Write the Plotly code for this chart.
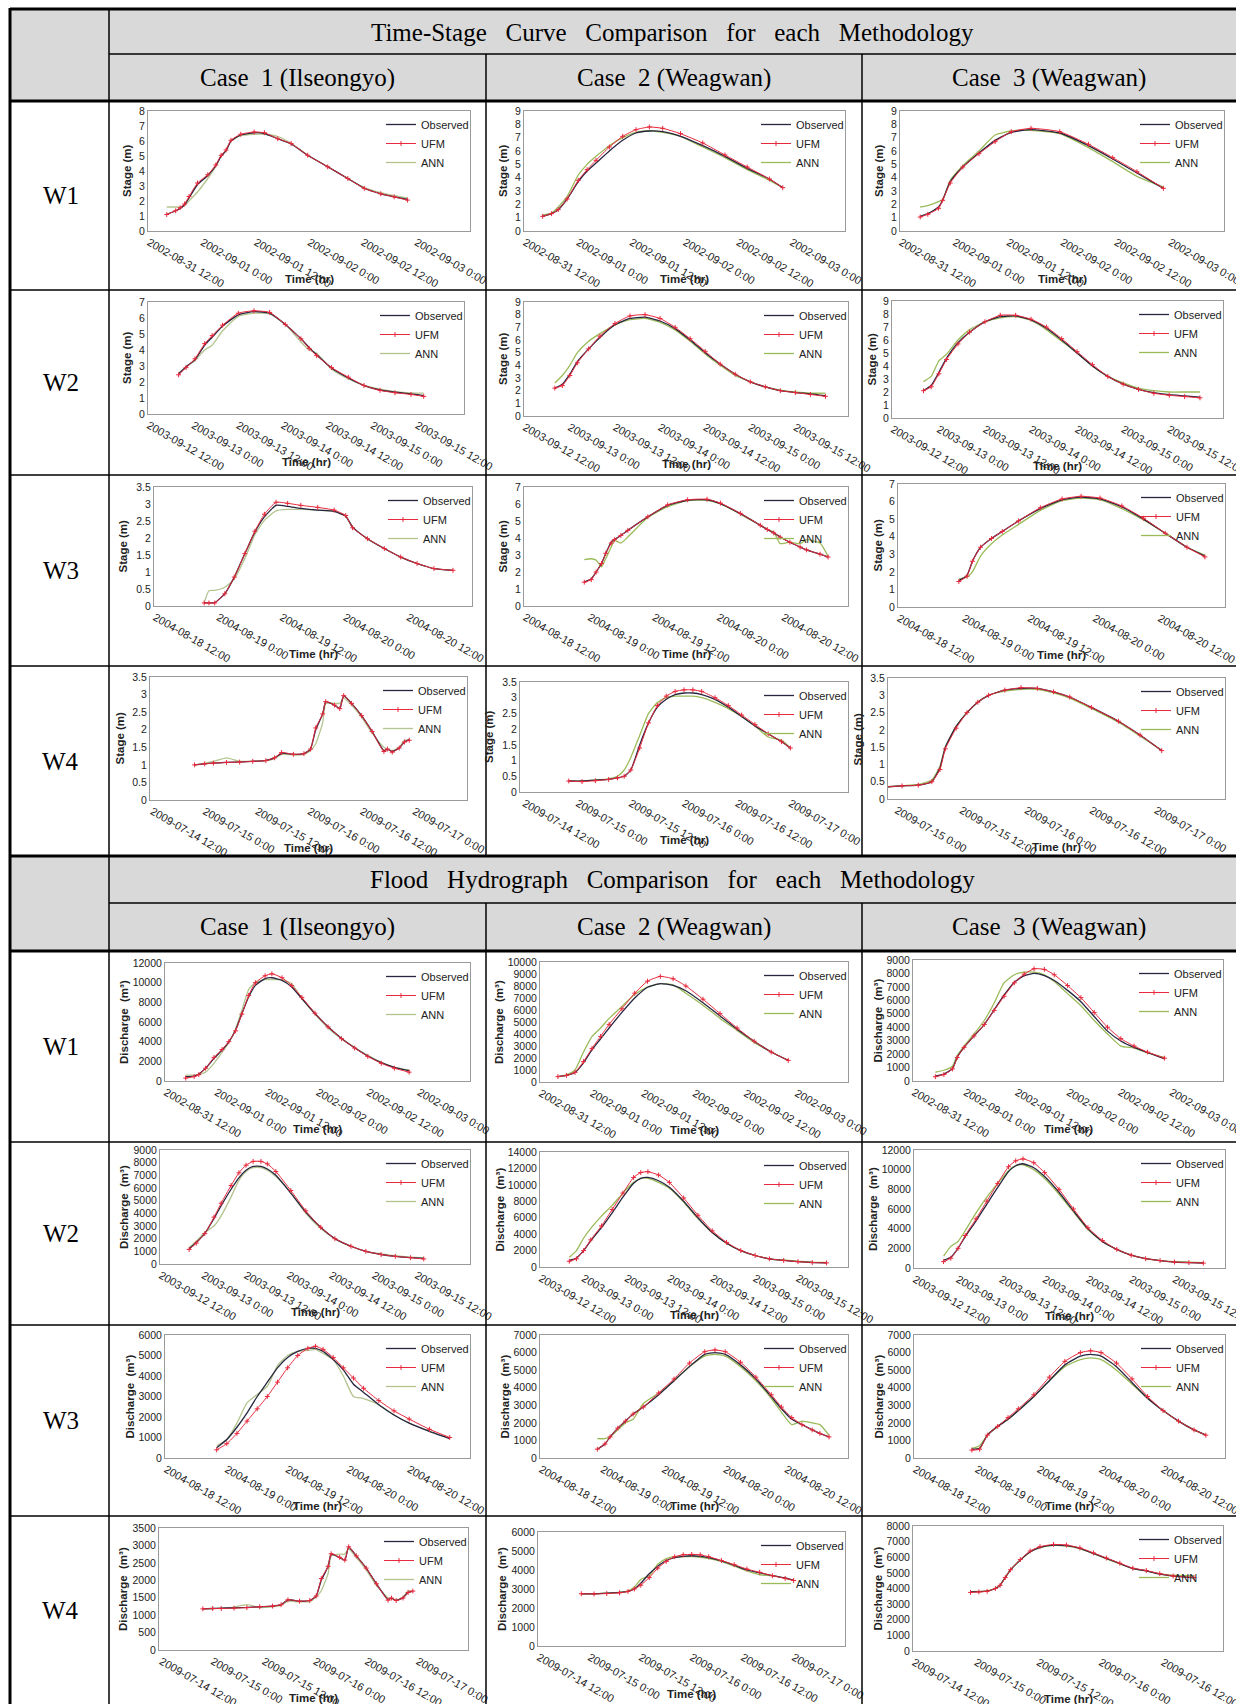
import plotly.graph_objects as go

W, H = 1236, 1704

# ---------------- tick labels ----------------
TK_2002 = ["2002-08-31 12:00", "2002-09-01 0:00", "2002-09-01 12:00", "2002-09-02 0:00", "2002-09-02 12:00", "2002-09-03 0:00"]
TK_2003 = ["2003-09-12 12:00", "2003-09-13 0:00", "2003-09-13 12:00", "2003-09-14 0:00", "2003-09-14 12:00", "2003-09-15 0:00", "2003-09-15 12:00"]
TK_2004 = ["2004-08-18 12:00", "2004-08-19 0:00", "2004-08-19 12:00", "2004-08-20 0:00", "2004-08-20 12:00"]
TK_2009A = ["2009-07-14 12:00", "2009-07-15 0:00", "2009-07-15 12:00", "2009-07-16 0:00", "2009-07-16 12:00", "2009-07-17 0:00"]
TK_2009B = ["2009-07-15 0:00", "2009-07-15 12:00", "2009-07-16 0:00", "2009-07-16 12:00", "2009-07-17 0:00"]
TK_2009C = ["2009-07-14 12:00", "2009-07-15 0:00", "2009-07-15 12:00", "2009-07-16 0:00", "2009-07-16 12:00"]
TH_5 = [0, 12, 24, 36, 48]
TH_6 = [0, 12, 24, 36, 48, 60]
TH_7 = [0, 12, 24, 36, 48, 60, 72]
TH_5B = [12, 24, 36, 48, 60]

# ---------------- Stage (m) ----------------
S11_T = [4, 6, 7, 8, 9, 10.9, 13.2, 15, 16.2, 17.3, 18.4, 20.6, 23.6, 25.9, 28.9, 31.9, 35.6, 40.1, 44.6, 48.3, 52, 55, 58]
S11_O = [1.1, 1.35, 1.5, 1.75, 2.2, 3.1, 3.7, 4.35, 5.0, 5.35, 6.0, 6.4, 6.55, 6.5, 6.15, 5.8, 5.05, 4.28, 3.5, 2.85, 2.48, 2.28, 2.1]
S11_U = [1.1, 1.35, 1.55, 1.8, 2.3, 3.2, 3.75, 4.4, 5.05, 5.4, 6.05, 6.45, 6.6, 6.55, 6.15, 5.83, 5.05, 4.28, 3.5, 2.84, 2.48, 2.28, 2.06]
S11_A = [1.6, 1.6, 1.6, 1.7, 2.0, 2.6, 3.5, 4.3, 5.0, 5.4, 6.0, 6.35, 6.45, 6.45, 6.3, 5.85, 5.05, 4.28, 3.5, 2.9, 2.55, 2.35, 2.2]

S12_T = [4, 6, 7.5, 9.5, 12, 14, 16, 19, 22, 25, 28, 31, 35, 40, 45, 50, 55, 58]
S12_O = [1.1, 1.3, 1.6, 2.4, 3.7, 4.5, 5.1, 6.0, 6.8, 7.35, 7.5, 7.45, 7.1, 6.4, 5.6, 4.7, 3.9, 3.25]
S12_U = [1.1, 1.3, 1.6, 2.4, 3.8, 4.6, 5.3, 6.3, 7.1, 7.6, 7.8, 7.7, 7.3, 6.6, 5.7, 4.8, 3.9, 3.25]
S12_A = [1.2, 1.35, 1.8, 2.6, 4.2, 5.0, 5.6, 6.4, 7.0, 7.4, 7.5, 7.4, 7.1, 6.3, 5.5, 4.6, 3.8, 3.25]

S13_T = [4.3, 6, 8.4, 9.3, 11, 13.8, 17.4, 21, 24.6, 29, 35.4, 41.8, 47.2, 52.6, 58.5]
S13_O = [1.1, 1.3, 1.8, 2.3, 3.7, 4.8, 5.85, 6.8, 7.4, 7.6, 7.35, 6.4, 5.4, 4.35, 3.2]
S13_U = [1.05, 1.25, 1.7, 2.3, 3.6, 4.8, 5.8, 6.7, 7.45, 7.7, 7.45, 6.5, 5.5, 4.45, 3.2]
S13_A = [1.8, 1.9, 2.2, 2.35, 3.8, 4.9, 6.0, 7.2, 7.5, 7.55, 7.3, 6.25, 5.2, 4.1, 3.3]

S21_T = [8, 10, 12.4, 15, 17, 19.8, 24, 28.2, 32.4, 36.6, 40.8, 43, 45, 49, 53.5, 57.7, 62, 66, 70.3, 73.7]
S21_O = [2.5, 2.95, 3.4, 4.3, 4.8, 5.5, 6.2, 6.4, 6.3, 5.6, 4.7, 4.15, 3.7, 2.87, 2.25, 1.78, 1.5, 1.36, 1.26, 1.15]
S21_U = [2.45, 2.9, 3.45, 4.4, 4.9, 5.55, 6.3, 6.45, 6.35, 5.6, 4.7, 4.1, 3.65, 2.9, 2.3, 1.78, 1.48, 1.33, 1.22, 1.1]
S21_A = [2.55, 2.95, 3.35, 4.0, 4.3, 5.2, 6.1, 6.3, 6.25, 5.6, 4.5, 4.0, 3.8, 2.8, 2.2, 1.8, 1.55, 1.4, 1.32, 1.3]

S22_T = [8, 10, 12, 14, 17, 20, 24, 28, 32, 36, 40, 44, 48, 52, 56, 60, 64, 68, 72, 76, 80]
S22_O = [2.2, 2.5, 3.3, 4.3, 5.3, 6.2, 7.2, 7.7, 7.8, 7.5, 6.9, 6.0, 5.0, 4.1, 3.3, 2.7, 2.3, 2.0, 1.85, 1.75, 1.6]
S22_U = [2.2, 2.4, 3.2, 4.2, 5.3, 6.3, 7.3, 7.9, 8.0, 7.7, 7.0, 6.1, 5.1, 4.1, 3.3, 2.7, 2.3, 2.0, 1.85, 1.7, 1.55]
S22_A = [2.6, 3.2, 4.0, 5.0, 5.9, 6.5, 7.2, 7.6, 7.7, 7.4, 6.8, 5.9, 4.9, 4.0, 3.2, 2.7, 2.3, 2.05, 1.9, 1.8, 1.8]

S23_T = [8, 10, 12, 14, 17, 20, 24, 28, 32, 36, 40, 44, 48, 52, 56, 60, 64, 68, 72, 76, 80]
S23_O = [2.1, 2.5, 3.5, 4.6, 5.8, 6.6, 7.4, 7.8, 7.85, 7.55, 6.9, 6.0, 5.0, 4.0, 3.2, 2.6, 2.2, 1.95, 1.8, 1.7, 1.6]
S23_U = [2.1, 2.4, 3.4, 4.5, 5.7, 6.6, 7.4, 7.9, 7.9, 7.6, 7.0, 6.1, 5.1, 4.1, 3.2, 2.6, 2.2, 1.9, 1.75, 1.65, 1.55]
S23_A = [2.8, 3.2, 4.4, 4.9, 6.0, 6.8, 7.4, 7.7, 7.8, 7.5, 6.8, 5.9, 5.0, 4.0, 3.2, 2.7, 2.3, 2.1, 2.0, 2.0, 2.0]

S31_T = [9.3, 10.2, 11.3, 13.2, 15, 17, 18.9, 20.7, 22.9, 25.1, 27.6, 30.8, 33.9, 36.1, 37.4, 40.2, 43.4, 46.5, 49.6, 52.8, 56.4]
S31_O = [0.09, 0.09, 0.1, 0.36, 0.85, 1.54, 2.18, 2.62, 2.96, 2.93, 2.87, 2.82, 2.78, 2.64, 2.32, 1.98, 1.69, 1.44, 1.25, 1.1, 1.05]
S31_U = [0.09, 0.09, 0.09, 0.36, 0.85, 1.54, 2.2, 2.7, 3.05, 3.02, 2.96, 2.9, 2.82, 2.66, 2.3, 1.98, 1.69, 1.44, 1.25, 1.1, 1.05]
S31_A = [0.1, 0.45, 0.46, 0.55, 0.8, 1.4, 2.1, 2.52, 2.8, 2.84, 2.84, 2.82, 2.79, 2.64, 2.32, 1.98, 1.69, 1.44, 1.25, 1.1, 1.05]

S32_T = [11, 12.3, 13.2, 14.2, 15, 16, 16.6, 17.8, 19.1, 22.8, 26.5, 30.2, 33.8, 36.3, 40, 43.7, 45, 46.2, 47.4, 49.2, 51.1, 52.3, 54.8, 56.3]
S32_O = [1.41, 1.6, 2.0, 2.5, 3.1, 3.76, 3.9, 4.15, 4.45, 5.24, 5.92, 6.22, 6.25, 6.02, 5.43, 4.75, 4.5, 4.3, 4.06, 3.75, 3.47, 3.3, 3.05, 2.88]
S32_U = [1.4, 1.55, 2.0, 2.5, 3.1, 3.7, 3.9, 4.15, 4.45, 5.25, 5.95, 6.25, 6.28, 6.05, 5.45, 4.75, 4.5, 4.3, 4.05, 3.75, 3.47, 3.3, 3.05, 2.88]
S32_A = [2.73, 2.78, 2.7, 2.3, 2.8, 3.47, 3.86, 3.7, 4.06, 5.2, 5.85, 6.2, 6.22, 6.0, 5.4, 4.75, 4.5, 4.35, 3.67, 3.76, 3.67, 3.9, 3.7, 2.92]

S33_T = [11, 12.5, 13.5, 15, 17, 19, 22, 26, 30, 33.5, 37, 41, 45, 49, 53, 56.3]
S33_O = [1.5, 1.8, 2.6, 3.4, 3.9, 4.3, 4.9, 5.6, 6.1, 6.25, 6.15, 5.7, 5.0, 4.2, 3.4, 2.9]
S33_U = [1.45, 1.75, 2.6, 3.4, 3.9, 4.3, 4.9, 5.65, 6.15, 6.3, 6.2, 5.75, 5.05, 4.2, 3.4, 2.85]
S33_A = [1.6, 1.7, 2.0, 2.9, 3.6, 4.1, 4.7, 5.5, 6.05, 6.2, 6.1, 5.6, 4.95, 4.2, 3.4, 2.95]

S41_T = [9.7, 12, 14, 17, 20, 23, 26, 28, 29.6, 32.3, 34.7, 36.2, 37.4, 39, 39.7, 41.7, 42.9, 43.8, 45.6, 47.9, 50.3, 53, 53.8, 54.9, 56.5, 57.7, 58.8]
S41_O = [1.0, 1.03, 1.05, 1.07, 1.08, 1.1, 1.13, 1.2, 1.33, 1.3, 1.32, 1.45, 2.0, 2.45, 2.8, 2.7, 2.6, 2.97, 2.75, 2.4, 1.95, 1.4, 1.45, 1.38, 1.48, 1.65, 1.72]
S41_U = [1.0, 1.03, 1.05, 1.07, 1.08, 1.1, 1.12, 1.2, 1.35, 1.3, 1.32, 1.45, 2.05, 2.45, 2.8, 2.7, 2.6, 2.97, 2.75, 2.4, 1.95, 1.38, 1.45, 1.36, 1.48, 1.65, 1.7]
S41_A = [1.0, 1.05, 1.1, 1.2, 1.1, 1.1, 1.12, 1.18, 1.3, 1.28, 1.3, 1.4, 1.6, 2.2, 2.75, 2.75, 2.75, 2.9, 2.7, 2.35, 1.9, 1.5, 1.45, 1.4, 1.5, 1.7, 1.7]

S42_T = [10, 13, 16, 19, 21, 22.5, 24, 26, 28, 30, 32, 34, 36, 38, 40, 43, 46, 49, 52, 55, 58, 60]
S42_O = [0.35, 0.35, 0.38, 0.4, 0.45, 0.5, 0.7, 1.5, 2.2, 2.7, 2.95, 3.1, 3.15, 3.15, 3.1, 2.95, 2.7, 2.4, 2.1, 1.85, 1.6, 1.4]
S42_U = [0.35, 0.33, 0.36, 0.4, 0.45, 0.5, 0.7, 1.4, 2.2, 2.75, 3.05, 3.2, 3.25, 3.25, 3.2, 3.0, 2.75, 2.45, 2.15, 1.85, 1.6, 1.4]
S42_A = [0.35, 0.35, 0.38, 0.42, 0.5, 0.7, 1.1, 1.8, 2.5, 2.85, 3.0, 3.05, 3.05, 3.05, 3.0, 2.85, 2.65, 2.4, 2.1, 1.75, 1.65, 1.4]

S43_T = [10, 13, 16, 18.5, 20, 21, 23, 25, 27, 29, 32, 35, 38, 41, 44, 48, 53, 57, 61]
S43_O = [0.35, 0.38, 0.4, 0.5, 0.9, 1.5, 2.1, 2.5, 2.8, 3.0, 3.15, 3.2, 3.2, 3.1, 2.95, 2.65, 2.25, 1.85, 1.4]
S43_U = [0.35, 0.38, 0.4, 0.5, 0.85, 1.45, 2.05, 2.5, 2.8, 3.0, 3.15, 3.22, 3.2, 3.1, 2.95, 2.65, 2.25, 1.85, 1.4]
S43_A = [0.35, 0.38, 0.42, 0.55, 0.95, 1.5, 2.1, 2.5, 2.8, 3.0, 3.12, 3.17, 3.17, 3.07, 2.92, 2.62, 2.22, 1.82, 1.4]

# ---------------- Discharge (m3) ----------------
D11_T = [4.7, 6.7, 7.8, 9.4, 11.4, 13.3, 14.9, 16.5, 18, 19.6, 21.2, 23.5, 25.1, 27.5, 29.8, 32.2, 35.3, 38.4, 41.6, 44.7, 47.8, 51, 54.1, 57.6]
D11_O = [440, 500, 710, 1280, 2300, 3140, 3990, 5170, 6860, 8550, 9730, 10410, 10500, 10240, 9570, 8380, 6860, 5510, 4330, 3380, 2540, 1860, 1390, 1050]
D11_U = [300, 450, 650, 1300, 2400, 3200, 4000, 5100, 6800, 8700, 10000, 10700, 10900, 10500, 9700, 8500, 6900, 5500, 4300, 3350, 2500, 1800, 1300, 900]
D11_A = [600, 600, 650, 900, 1800, 2900, 3900, 5300, 7200, 9300, 10000, 10300, 10300, 10300, 9900, 8400, 6800, 5400, 4300, 3400, 2600, 1900, 1400, 1100]

D12_T = [4, 6, 8, 10, 12, 14, 16, 19, 22, 25, 28, 31, 34, 38, 42, 46, 50, 54, 58]
D12_O = [450, 550, 800, 1600, 2700, 3600, 4500, 5800, 7000, 7900, 8200, 8050, 7600, 6600, 5500, 4400, 3400, 2500, 1800]
D12_U = [450, 550, 800, 1700, 2800, 3800, 4800, 6100, 7400, 8400, 8800, 8600, 8000, 6900, 5700, 4500, 3400, 2500, 1800]
D12_A = [450, 600, 1000, 2500, 3800, 4500, 5300, 6300, 7300, 7900, 8200, 8100, 7400, 6400, 5300, 4300, 3300, 2500, 1800]

D13_T = [5, 7, 9, 10.1, 11.7, 14, 16.4, 18.7, 21, 23.4, 25.7, 28, 30.4, 32.7, 35.8, 38.9, 42, 45.1, 48.2, 51.3, 54.4, 58.4]
D13_O = [360, 510, 920, 1770, 2500, 3350, 4200, 5290, 6380, 7350, 7840, 8000, 7840, 7470, 6740, 5900, 4800, 3710, 2980, 2500, 2130, 1650]
D13_U = [320, 480, 900, 1750, 2500, 3350, 4200, 5250, 6300, 7300, 7950, 8350, 8300, 7900, 7100, 6200, 5100, 4000, 3150, 2600, 2150, 1700]
D13_A = [650, 800, 1100, 1900, 2600, 3500, 4500, 5800, 7300, 7900, 8100, 8100, 7900, 7400, 6500, 5600, 4500, 3500, 2600, 2450, 2100, 1750]

D21_T = [8, 10, 12.4, 15, 17, 19.8, 22, 24, 26, 28.2, 30, 32.4, 36.6, 40.8, 45, 49, 53.5, 57.7, 62, 66, 70.3, 74]
D21_O = [1200, 1700, 2400, 3600, 4600, 5900, 6800, 7400, 7700, 7700, 7500, 7000, 5600, 4100, 2900, 2000, 1400, 1000, 750, 600, 500, 450]
D21_U = [1150, 1650, 2400, 3700, 4800, 6200, 7200, 7800, 8100, 8100, 7900, 7300, 5800, 4200, 2900, 2000, 1400, 1000, 750, 600, 500, 400]
D21_A = [1300, 1800, 2500, 3000, 3800, 5300, 6600, 7300, 7600, 7600, 7400, 6900, 5600, 4000, 2800, 2000, 1400, 1000, 800, 650, 550, 500]

D22_T = [8, 10, 12, 14, 17, 20, 23, 26, 28, 30, 33, 36, 40, 44, 48, 52, 56, 60, 64, 68, 72, 76, 80]
D22_O = [800, 1100, 2000, 3200, 4800, 6600, 8500, 10200, 10800, 10900, 10500, 9700, 8000, 6000, 4200, 2900, 2000, 1400, 1000, 800, 650, 550, 500]
D22_U = [700, 1000, 2000, 3300, 5000, 7000, 9000, 10900, 11500, 11600, 11200, 10300, 8400, 6300, 4400, 3000, 2000, 1400, 1000, 800, 650, 550, 500]
D22_A = [1200, 2000, 3500, 4700, 6200, 7500, 9000, 10300, 10800, 10800, 10300, 9600, 7900, 5900, 4200, 2900, 2000, 1400, 1000, 850, 700, 600, 550]

D23_T = [8, 10, 12, 14, 17, 20, 23, 26, 28, 30, 33, 36, 40, 44, 48, 52, 56, 60, 64, 68, 72, 76, 80]
D23_O = [800, 1100, 2000, 3200, 4800, 6500, 8200, 9800, 10400, 10600, 10200, 9300, 7700, 5800, 4000, 2700, 1900, 1300, 950, 750, 600, 550, 500]
D23_U = [650, 1000, 2000, 3300, 5000, 6800, 8600, 10300, 10900, 11100, 10700, 9700, 8000, 6000, 4100, 2800, 1900, 1300, 950, 750, 600, 550, 500]
D23_A = [1200, 2200, 2700, 3800, 5600, 7200, 8600, 9900, 10400, 10500, 10000, 9100, 7500, 5700, 3900, 2700, 1900, 1300, 950, 750, 650, 600, 550]

D31_T = [10, 12, 14, 16, 18, 20, 22, 24, 26, 28, 29.5, 31, 33, 35, 37, 39, 42, 45, 48, 52, 56]
D31_O = [500, 900, 1500, 2200, 3000, 3700, 4400, 4900, 5200, 5350, 5350, 5200, 4800, 4300, 3600, 3200, 2600, 2100, 1700, 1300, 950]
D31_U = [400, 700, 1200, 1800, 2400, 3000, 3700, 4400, 5000, 5350, 5450, 5300, 4900, 4400, 3900, 3400, 2800, 2300, 1900, 1400, 1000]
D31_A = [600, 900, 1700, 2700, 3100, 3500, 4500, 5000, 5200, 5250, 5300, 5100, 4800, 4000, 3000, 2900, 2600, 2100, 1700, 1300, 950]

D32_T = [11, 12.5, 13.5, 15, 16.5, 18, 20, 23, 26, 29, 32, 34, 36, 39, 42, 45, 47, 49, 51, 53, 54.5, 56.3]
D32_O = [500, 800, 1200, 1700, 2100, 2500, 2900, 3600, 4400, 5200, 5900, 6000, 5900, 5300, 4500, 3500, 2800, 2200, 1900, 1600, 1400, 1200]
D32_U = [500, 800, 1200, 1700, 2100, 2500, 2900, 3700, 4500, 5400, 6050, 6150, 6050, 5450, 4600, 3600, 2900, 2300, 1900, 1600, 1400, 1200]
D32_A = [1100, 1100, 1200, 1600, 2000, 2200, 3100, 3700, 4400, 5200, 5800, 5900, 5800, 5200, 4400, 3400, 2600, 1900, 2100, 2000, 1900, 1300]

D33_T = [11, 12.5, 14, 16, 18, 20, 23, 26, 29, 32, 34, 36, 39, 42, 45, 48, 51, 54, 56.3]
D33_O = [500, 550, 1300, 1800, 2200, 2700, 3500, 4400, 5300, 5800, 5900, 5800, 5200, 4300, 3400, 2700, 2100, 1600, 1300]
D33_U = [450, 500, 1300, 1800, 2300, 2800, 3600, 4600, 5500, 6000, 6100, 6000, 5400, 4500, 3500, 2700, 2100, 1600, 1300]
D33_A = [550, 700, 1300, 1800, 2200, 2700, 3500, 4400, 5200, 5600, 5700, 5600, 5000, 4200, 3400, 2700, 2100, 1600, 1300]

D41_T = [9.7, 12, 14, 17, 20, 23, 26, 28, 29.6, 32.3, 34.7, 36.2, 37.4, 39, 39.7, 41.7, 42.9, 43.8, 45.6, 47.9, 50.3, 53, 53.8, 54.9, 56.5, 57.7, 58.8]
D41_O = [1180, 1190, 1200, 1210, 1220, 1240, 1260, 1300, 1440, 1400, 1420, 1550, 2000, 2400, 2750, 2650, 2580, 2950, 2700, 2350, 1900, 1450, 1490, 1420, 1500, 1650, 1680]
D41_U = [1180, 1190, 1190, 1200, 1215, 1240, 1260, 1300, 1440, 1400, 1420, 1550, 2050, 2400, 2760, 2660, 2580, 2960, 2700, 2350, 1900, 1430, 1490, 1420, 1490, 1650, 1690]
D41_A = [1180, 1190, 1200, 1230, 1300, 1220, 1240, 1280, 1400, 1380, 1390, 1520, 1700, 2200, 2700, 2750, 2750, 2900, 2650, 2300, 1850, 1500, 1480, 1430, 1520, 1700, 1680]

D42_T = [10, 13, 16, 19, 21, 22.5, 24, 26, 28, 30, 32, 34, 36, 38, 40, 43, 46, 49, 52, 55, 58, 60]
D42_O = [2750, 2750, 2780, 2820, 2880, 3000, 3300, 3800, 4200, 4500, 4650, 4720, 4750, 4720, 4650, 4480, 4250, 4000, 3850, 3700, 3580, 3450]
D42_U = [2750, 2740, 2760, 2800, 2870, 3000, 3200, 3600, 4100, 4450, 4700, 4800, 4820, 4800, 4700, 4500, 4280, 4050, 3880, 3700, 3560, 3450]
D42_A = [2750, 2750, 2780, 2820, 2900, 3100, 3500, 3700, 4300, 4600, 4700, 4700, 4700, 4670, 4600, 4450, 4200, 3950, 3750, 3700, 3560, 3450]

D43_T = [10.9, 12.5, 14.1, 15.7, 16.6, 17.6, 18.6, 20.5, 22.4, 24.3, 26.9, 29.4, 32, 34.6, 37.1, 39.7, 42.2, 44.8, 47.4, 50, 54]
D43_O = [3790, 3800, 3830, 4000, 4210, 4700, 5180, 5820, 6350, 6630, 6780, 6740, 6570, 6250, 5925, 5600, 5280, 5130, 4920, 4790, 4680]
D43_U = [3750, 3780, 3820, 4000, 4200, 4700, 5200, 5850, 6400, 6680, 6820, 6780, 6600, 6280, 5950, 5620, 5300, 5150, 4950, 4800, 4700]
D43_A = [3800, 3810, 3840, 4020, 4230, 4720, 5200, 5830, 6340, 6620, 6760, 6720, 6550, 6230, 5900, 5580, 5270, 5130, 4950, 4850, 4800]

# ---------------- panel layout (pixel boxes: left, right, top, bottom) ----------------
PANELS = [
    # Stage section
    (S11_T, S11_O, S11_U, S11_A, TK_2002, TH_6, [-0.2, 72], [0, 8], 1, "Stage (m)", (148, 470, 111, 231)),
    (S12_T, S12_O, S12_U, S12_A, TK_2002, TH_6, [-0.2, 72], [0, 9], 1, "Stage (m)", (524, 845, 111, 231)),
    (S13_T, S13_O, S13_U, S13_A, TK_2002, TH_6, [-0.2, 72], [0, 9], 1, "Stage (m)", (900, 1224, 111, 231)),
    (S21_T, S21_O, S21_U, S21_A, TK_2003, TH_7, [-0.2, 84.5], [0, 7], 1, "Stage (m)", (148, 464, 302, 414)),
    (S22_T, S22_O, S22_U, S22_A, TK_2003, TH_7, [-0.2, 86], [0, 9], 1, "Stage (m)", (524, 848, 302, 416)),
    (S23_T, S23_O, S23_U, S23_A, TK_2003, TH_7, [-0.2, 86], [0, 9], 1, "Stage (m)", (892, 1223, 301, 418)),
    (S31_T, S31_O, S31_U, S31_A, TK_2004, TH_5, [-0.2, 60], [0, 3.5], 0.5, "Stage (m)", (154, 472, 487, 606)),
    (S32_T, S32_O, S32_U, S32_A, TK_2004, TH_5, [-0.2, 60], [0, 7], 1, "Stage (m)", (524, 848, 487, 606)),
    (S33_T, S33_O, S33_U, S33_A, TK_2004, TH_5, [-0.2, 60], [0, 7], 1, "Stage (m)", (898, 1225, 484, 607)),
    (S41_T, S41_O, S41_U, S41_A, TK_2009A, TH_6, [-0.5, 72], [0, 3.5], 0.5, "Stage (m)", (150, 467, 677, 800)),
    (S42_T, S42_O, S42_U, S42_A, TK_2009A, TH_6, [-1, 73], [0, 3.5], 0.5, "Stage (m)", (520, 848, 682, 792)),
    (S43_T, S43_O, S43_U, S43_A, TK_2009B, TH_5B, [10.4, 72.7], [0, 3.5], 0.5, "Stage (m)", (888, 1225, 678, 799)),
    # Discharge section
    (D11_T, D11_O, D11_U, D11_A, TK_2002, TH_6, [-0.2, 72], [0, 12000], 2000, "Discharge  (m³)", (165, 470, 963, 1081)),
    (D12_T, D12_O, D12_U, D12_A, TK_2002, TH_6, [-0.2, 72], [0, 10000], 1000, "Discharge  (m³)", (540, 848, 962, 1082)),
    (D13_T, D13_O, D13_U, D13_A, TK_2002, TH_6, [-0.2, 72], [0, 9000], 1000, "Discharge  (m³)", (913, 1223, 960, 1081)),
    (D21_T, D21_O, D21_U, D21_A, TK_2003, TH_7, [-0.2, 87], [0, 9000], 1000, "Discharge  (m³)", (160, 470, 1150, 1264)),
    (D22_T, D22_O, D22_U, D22_A, TK_2003, TH_7, [-0.2, 86], [0, 14000], 2000, "Discharge  (m³)", (540, 848, 1152, 1267)),
    (D23_T, D23_O, D23_U, D23_A, TK_2003, TH_7, [-0.2, 86], [0, 12000], 2000, "Discharge  (m³)", (914, 1225, 1150, 1268)),
    (D31_T, D31_O, D31_U, D31_A, TK_2004, TH_5, [-0.2, 60], [0, 6000], 1000, "Discharge  (m³)", (165, 470, 1335, 1458)),
    (D32_T, D32_O, D32_U, D32_A, TK_2004, TH_5, [-0.2, 60], [0, 7000], 1000, "Discharge  (m³)", (540, 848, 1335, 1458)),
    (D33_T, D33_O, D33_U, D33_A, TK_2004, TH_5, [-0.2, 60], [0, 7000], 1000, "Discharge  (m³)", (914, 1225, 1335, 1458)),
    (D41_T, D41_O, D41_U, D41_A, TK_2009A, TH_6, [-0.55, 71.7], [0, 3500], 500, "Discharge  (m³)", (159, 468, 1528, 1650)),
    (D42_T, D42_O, D42_U, D42_A, TK_2009A, TH_6, [-0.2, 72.1], [0, 6000], 1000, "Discharge  (m³)", (538, 845, 1532, 1646)),
    (D43_T, D43_O, D43_U, D43_A, TK_2009C, TH_5, [-0.2, 59.6], [0, 8000], 1000, "Discharge  (m³)", (913, 1223, 1526, 1651)),
]

OBS_C = "#262640"
UFM_C = "#e8283c"
ANN_C = "#9bbb59"
SANS = "Liberation Sans Narrow, Liberation Sans, Arial, sans-serif"
SERIF = "Liberation Serif, DejaVu Serif, serif"


def fx(x):
    return x / W


def fy(y):
    return 1 - y / H


fig = go.Figure()
layout = dict(width=W, height=H, autosize=False,
              margin=dict(l=0, r=0, t=0, b=0, pad=0, autoexpand=False),
              paper_bgcolor="white", plot_bgcolor="white", showlegend=True)
annotations = []
shapes = []

for i, (T, O, U, A, tk, th, xr, yr, dy, ytitle, box) in enumerate(PANELS):
    n = i + 1
    l, r, t, b = box
    xa = "x" if n == 1 else f"x{n}"
    ya = "y" if n == 1 else f"y{n}"
    lg = "legend" if n == 1 else f"legend{n}"
    ann_col = "#b3c48f" if i % 3 == 0 else ANN_C
    fig.add_trace(go.Scatter(x=T, y=A, mode="lines", name="ANN", legend=lg, legendrank=3,
                             line=dict(color=ann_col, width=1.3, shape="spline", smoothing=0.5),
                             xaxis=xa, yaxis=ya))
    fig.add_trace(go.Scatter(x=T, y=O, mode="lines", name="Observed", legend=lg, legendrank=1,
                             line=dict(color=OBS_C, width=1.3, shape="spline", smoothing=0.5),
                             xaxis=xa, yaxis=ya))
    fig.add_trace(go.Scatter(x=T, y=U, mode="lines+markers", name="UFM", legend=lg, legendrank=2,
                             line=dict(color=UFM_C, width=1, shape="spline", smoothing=0.5),
                             marker=dict(symbol="cross-thin-open", size=3.5, color=UFM_C,
                                         line=dict(color=UFM_C, width=1)),
                             xaxis=xa, yaxis=ya))
    axk = "xaxis" if n == 1 else f"xaxis{n}"
    ayk = "yaxis" if n == 1 else f"yaxis{n}"
    layout[axk] = dict(domain=[fx(l), fx(r)], range=xr, anchor=ya, tickmode="array",
                       tickvals=th, ticktext=tk, tickangle=30, showgrid=False, zeroline=False,
                       showline=True, mirror=True, linecolor="#9a9a9a", linewidth=1, ticks="",
                       automargin=False, ticklabeloverflow="allow",
                       tickfont=dict(family=SANS, size=11, color="#222222"), fixedrange=True)
    layout[ayk] = dict(domain=[fy(b), fy(t)], range=yr, dtick=dy, tickformat="d" if dy >= 1 else None,
                       anchor=xa, showgrid=False, automargin=False,
                       zeroline=False, showline=True, mirror=True, linecolor="#9a9a9a", linewidth=1,
                       ticks="", tickfont=dict(family=SANS, size=10.5, color="#222222"), fixedrange=True)
    layout[lg] = dict(x=fx(r + 4), y=fy(t - 1), xanchor="right", yanchor="top",
                      bgcolor="rgba(0,0,0,0)", borderwidth=0, itemwidth=30,
                      font=dict(family=SANS, size=11, color="#222222"),
                      tracegroupgap=0)
    nchar = max(len(f"{yr[1]:g}"), len(f"{yr[1] - dy:g}"))
    off = 16 + 5 * nchar
    annotations.append(dict(x=fx(l - off), y=fy((t + b) / 2), xref="paper", yref="paper",
                            text=f"<b>{ytitle}</b>", textangle=-90, showarrow=False,
                            font=dict(family=SANS, size=11.5, color="#222222"),
                            xanchor="center", yanchor="middle"))
    annotations.append(dict(x=fx((l + r) / 2), y=fy(b + 48), xref="paper", yref="paper",
                            text="<b>Time (hr)</b>", showarrow=False,
                            font=dict(family=SANS, size=11.5, color="#222222"),
                            xanchor="center", yanchor="middle"))

# ---------------- table grid ----------------
GRAY = "#d9d9d9"
TABLE_L, LAB_R, C12, C23, TABLE_R = 10, 109, 486, 862, 1236
for (y0, y1) in [(9, 101), (856, 951)]:
    shapes.append(dict(type="rect", xref="paper", yref="paper", x0=fx(TABLE_L), x1=fx(TABLE_R),
                       y0=fy(y1), y1=fy(y0), fillcolor=GRAY, line=dict(width=0), layer="below"))


def hline(y, x0, x1, w):
    shapes.append(dict(type="line", xref="paper", yref="paper", x0=fx(x0), x1=fx(x1),
                       y0=fy(y), y1=fy(y), line=dict(color="black", width=w)))


def vline(x, y0, y1, w):
    shapes.append(dict(type="line", xref="paper", yref="paper", x0=fx(x), x1=fx(x),
                       y0=fy(y0), y1=fy(y1), line=dict(color="black", width=w)))


hline(9, TABLE_L, TABLE_R, 3)
hline(54, LAB_R, TABLE_R, 1.5)
hline(101, TABLE_L, TABLE_R, 3)
for y in (290, 475, 666):
    hline(y, TABLE_L, TABLE_R, 1.5)
hline(856, TABLE_L, TABLE_R, 3)
hline(903, LAB_R, TABLE_R, 1.5)
hline(951, TABLE_L, TABLE_R, 3)
for y in (1142, 1325, 1516):
    hline(y, TABLE_L, TABLE_R, 1.5)
vline(TABLE_L, 8, H, 3)
vline(LAB_R, 8, H, 1.5)
for x in (C12, C23):
    vline(x, 54, 856, 1.5)
    vline(x, 903, H, 1.5)

SP = "\u00a0"
TITLE_1 = "Time-Stage Curve Comparison for each Methodology"
TITLE_2 = "Flood Hydrograph Comparison for each Methodology"
CASES = ["Case" + SP + SP + "1" + SP + "(Ilseongyo)", "Case" + SP + SP + "2" + SP + "(Weagwan)",
         "Case" + SP + SP + "3" + SP + "(Weagwan)"]
ROWS = ["W1", "W2", "W3", "W4"]

for title, yc in [(TITLE_1, 32), (TITLE_2, 879)]:
    annotations.append(dict(x=fx((LAB_R + TABLE_R) / 2), y=fy(yc), xref="paper", yref="paper",
                            text=title.replace(" ", SP * 3), showarrow=False,
                            font=dict(family=SERIF, size=25, color="black"),
                            xanchor="center", yanchor="middle"))
for yc in (78, 927):
    for k, (c0, c1) in enumerate([(LAB_R, C12), (C12, C23), (C23, TABLE_R)]):
        annotations.append(dict(x=fx((c0 + c1) / 2), y=fy(yc), xref="paper", yref="paper",
                                text=CASES[k], showarrow=False,
                                font=dict(family=SERIF, size=25, color="black"),
                                xanchor="center", yanchor="middle"))
for bounds in [(101, 290, 475, 666, 856), (951, 1142, 1325, 1516, H)]:
    for k in range(4):
        yc = (bounds[k] + bounds[k + 1]) / 2
        annotations.append(dict(x=fx((TABLE_L + LAB_R) / 2 + 1), y=fy(yc), xref="paper", yref="paper",
                                text=ROWS[k], showarrow=False,
                                font=dict(family=SERIF, size=25, color="black"),
                                xanchor="center", yanchor="middle"))

layout["annotations"] = annotations
layout["shapes"] = shapes
fig.update_layout(**layout)
fig.write_html("out.html",
               config={"responsive": False, "displayModeBar": False},
               post_script="document.body.style.margin='0';document.body.style.overflow='hidden';")
